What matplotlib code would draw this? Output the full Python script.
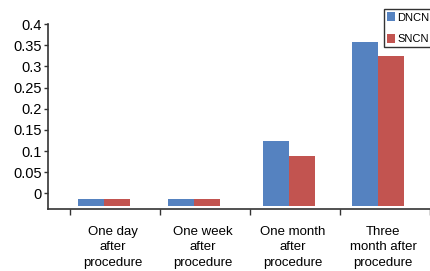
import matplotlib.pyplot as plt
import numpy as np

plt.rcParams["font.family"] = ["Liberation Sans", "DejaVu Sans"]

categories = ["One day\nafter\nprocedure", "One week\nafter\nprocedure",
              "One month\nafter\nprocedure", "Three\nmonth after\nprocedure"]
series_names = ["DNCN", "SNCN"]
dncn = [-0.013, -0.013, 0.124, 0.358]
sncn = [-0.013, -0.013, 0.088, 0.325]
dncn_base = [-0.029, -0.029, -0.029, -0.029]
sncn_base = [-0.029, -0.029, -0.031, -0.031]
yticks = [0, 0.05, 0.1, 0.15, 0.2, 0.25, 0.3, 0.35, 0.4]
ytick_labels = ["0", "0.05", "0.1", "0.15", "0.2", "0.25", "0.3", "0.35", "0.4"]

BLUE = "#5582c0"
RED = "#c25450"
SPINE = "#333333"

fig = plt.figure(figsize=(4.30, 2.71), dpi=100)
ax = fig.add_axes([0.1116, 0.2288, 0.8884, 0.6826])

x = np.arange(len(categories))
offset = np.array([-0.12, -0.12, -0.07, -0.08])
w = 0.29
b1 = ax.bar(x + offset - w / 2, np.array(dncn) - np.array(dncn_base), w,
            bottom=dncn_base, color=BLUE, label=series_names[0])
b2 = ax.bar(x + offset + w / 2, np.array(sncn) - np.array(sncn_base), w,
            bottom=sncn_base, color=RED, label=series_names[1])

ax.set_xlim(-0.744, 3.5)
ax.set_ylim(-0.037, 0.4)

ax.set_yticks(yticks)
ax.set_yticklabels(ytick_labels, fontsize=10.5)
ax.tick_params(axis="y", length=3, width=1, color=SPINE, pad=1.5)

# boundary ticks, labels centred in each category
ax.set_xticks(np.arange(len(categories) + 1) - 0.5)
ax.set_xticklabels([])
ax.tick_params(axis="x", which="major", length=4, width=1, color=SPINE)
ax.set_xticks(x - 0.02, minor=True)
ax.set_xticklabels(categories, minor=True, fontsize=9.5, linespacing=1.4)
ax.tick_params(axis="x", which="minor", length=0, pad=12)

for s in ["top", "right"]:
    ax.spines[s].set_visible(False)
for s in ["left", "bottom"]:
    ax.spines[s].set_color(SPINE)
    ax.spines[s].set_linewidth(1.2)
ax.spines["left"].set_bounds(-0.037, 0.4)

leg = fig.legend(handles=[b1, b2], labels=series_names, loc="upper right",
                 bbox_to_anchor=(1.005, 0.965), fontsize=8, frameon=True,
                 fancybox=False, edgecolor="black", handlelength=0.7,
                 handleheight=0.9, handletextpad=0.2, labelspacing=1.0,
                 borderpad=0.25, borderaxespad=0)
leg.get_frame().set_linewidth(1.0)

fig.savefig("out.png", dpi=100)
